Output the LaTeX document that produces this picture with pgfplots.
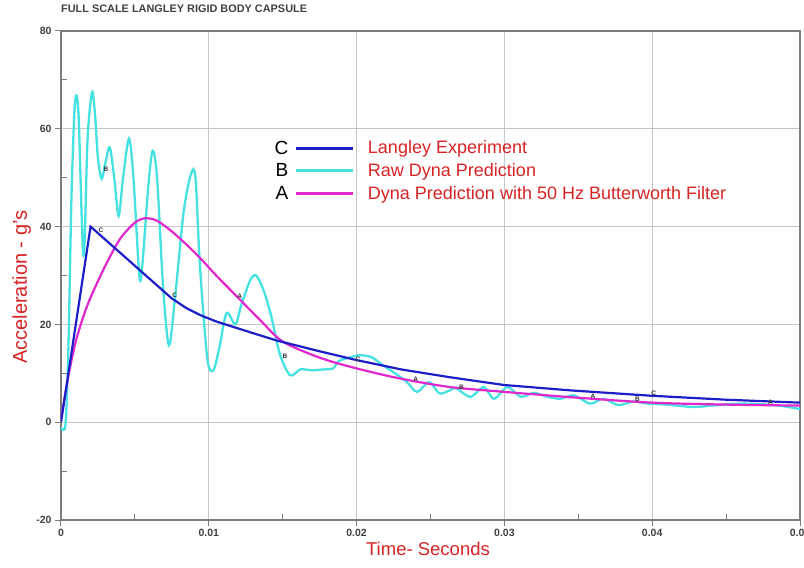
\documentclass[border=0pt]{standalone}
\usepackage{fontspec}
\setmainfont{Liberation Sans}
\usepackage{pgfplots}
\pgfplotsset{compat=1.18}
\usetikzlibrary{calc}

\definecolor{expblue}{RGB}{30,30,200}
\definecolor{rawcyan}{RGB}{70,225,225}
\definecolor{filtmag}{RGB}{225,40,205}
\definecolor{labred}{RGB}{215,35,35}
\definecolor{axgray}{RGB}{125,125,125}

\pgfplotsset{
  legC/.style={legend image code/.code={\node[anchor=east,text=black,font=\fontsize{19}{19}\selectfont] at (-6pt,0pt) {C}; \draw[expblue,line width=3pt] (0pt,0pt) -- (57pt,0pt);}},
  legB/.style={legend image code/.code={\node[anchor=east,text=black,font=\fontsize{19}{19}\selectfont] at (-6pt,0pt) {B}; \draw[rawcyan,line width=3pt] (0pt,0pt) -- (57pt,0pt);}},
  legA/.style={legend image code/.code={\node[anchor=east,text=black,font=\fontsize{19}{19}\selectfont] at (-6pt,0pt) {A}; \draw[filtmag,line width=3pt] (0pt,0pt) -- (57pt,0pt);}},
}
\tikzset{curvelab/.style={font=\fontsize{6.5}{6.5}\selectfont\bfseries, text=black!80, inner sep=0pt}}

% C: Langley experiment
\pgfplotstableread{
t      g
0      0
0.002  40
0.0075 25.3
0.0085 23.3
0.0095 21.8
0.0105 20.6
0.013  18.2
0.0146 16.7
0.0175 14.5
0.02   12.7
0.023  10.8
0.0263 9.2
0.03   7.6
0.0345 6.5
0.04   5.4
0.045  4.6
0.05   4.0
}\expdata

% B: raw Dyna prediction
\pgfplotstableread{
t       g
0       -1
0.0003  -0.5
0.0005  15
0.0007  45
0.0009  63
0.00105 66.8
0.0012  62
0.0014  42
0.0015  34.5
0.0016  37
0.0018  58
0.0021  67.5
0.0023  63
0.0025  54
0.00275 49.8
0.003   53
0.0033  56.2
0.0036  50
0.0039  42.2
0.0042  50
0.0046  58
0.0049  50
0.0053  30
0.0055  32
0.0059  48
0.0062  55.5
0.0065  50
0.0069  28
0.0073  15.7
0.0077  25
0.0083  43
0.0088  50.8
0.0091  50
0.0094  32
0.0099  13
0.0103  10.6
0.0107  15
0.0112  22.3
0.0118  20
0.0122  24
0.0128  29
0.0132  30
0.0137  27
0.0142  22
0.0148  14
0.0155  9.6
0.0162  10.8
0.017   10.6
0.0178  10.8
0.0184  11
0.0188  12.5
0.0195  13.2
0.0202  13.7
0.021   13.3
0.0218  11.6
0.0227  9.8
0.0234  8.2
0.0241  6.2
0.0249  8.2
0.0256  5.9
0.0263  6.5
0.0267  7
0.0277  5.2
0.0286  7.2
0.0293  4.8
0.0302  7.2
0.0311  5.2
0.032   6
0.0329  5.2
0.0338  4.8
0.0347  5.5
0.0358  3.8
0.0367  4.8
0.0377  3.5
0.0387  4.2
0.0397  3.8
0.041   3.6
0.0428  3.1
0.044   3.4
0.0462  3.8
0.0485  3.4
0.05    2.7
}\rawdata

% A: Dyna prediction, 50 Hz Butterworth
\pgfplotstableread{
t       g
0       0.5
0.0003  6
0.0006  11
0.001   16.5
0.0015  21.5
0.002   25.5
0.003   32
0.004   37.5
0.005   40.8
0.0057  41.7
0.0065  41.2
0.0075  39
0.0085  36.3
0.0095  33.3
0.0105  30
0.012   25.4
0.0135  20.8
0.015   16.5
0.0175  13.2
0.02    11
0.023   8.9
0.0263  7.2
0.03    6.2
0.035   5
0.04    4
0.045   3.6
0.05    3.4
}\filtdata

\begin{document}
\begin{tikzpicture}
\begin{axis}[
  name=ax,
  scale only axis,
  width=739pt, height=489pt,
  xmin=0, xmax=0.05, ymin=-20, ymax=80,
  xtick={0,0.01,0.02,0.03,0.04,0.05},
  minor xtick={0.005,0.015,0.025,0.035,0.045},
  ytick={-20,0,20,40,60,80},
  minor ytick={-10,10,30,50,70},
  tick pos=left,
  grid=major,
  grid style={gray!45, line width=0.8pt},
  axis line style={axgray, line width=1.6pt},
  tick align=outside,
  major tick length=6pt, minor tick length=6pt,
  tick style={axgray, line width=1pt},
  minor x tick style={yshift=6pt},
  minor y tick style={xshift=6pt},
  scaled x ticks=false,
  xticklabel style={/pgf/number format/fixed, /pgf/number format/precision=2},
  /pgf/number format/assume math mode=true,
  ticklabel style={font=\fontsize{10.5}{12}\selectfont\bfseries, text=black!75},
  xlabel={Time- Seconds},
  ylabel={Acceleration - g's},
  xlabel style={at={(axis description cs:0.4966,-0.0593)}, anchor=center,
    font=\fontsize{18.5}{21}\selectfont, text=labred},
  ylabel style={at={(axis description cs:-0.0532,0.476)}, anchor=center,
    font=\fontsize{20}{23}\selectfont, text=labred},
  title={FULL SCALE LANGLEY RIGID BODY CAPSULE},
  title style={at={(axis description cs:0,1)}, anchor=base west, yshift=12pt,
    font=\fontsize{10.9}{12}\selectfont\bfseries, text=black!75, inner sep=0pt},
  legend style={at={(axis cs:0.0143,58)}, anchor=north west, draw=none, fill=none,
    font=\fontsize{18}{20}\selectfont, text=labred, inner sep=0pt,
    column sep=11pt, row sep=4pt, cells={anchor=west}},
]
\addlegendimage{legC}
\addlegendentry{Langley Experiment}
\addlegendimage{legB}
\addlegendentry{Raw Dyna Prediction}
\addlegendimage{legA}
\addlegendentry{Dyna Prediction with 50 Hz Butterworth Filter}

\addplot[rawcyan, line width=2.3pt, smooth, tension=0.5, forget plot] table[x=t,y=g] {\rawdata};
\addplot[filtmag, line width=2.2pt, smooth, forget plot] table[x=t,y=g] {\filtdata};
\addplot[expblue, line width=2.2pt, forget plot] table[x=t,y=g] {\expdata};

\node[curvelab] at (axis cs:0.00304,51.8) {B};
\node[curvelab] at (axis cs:0.0027,39.2) {C};
\node[curvelab] at (axis cs:0.0077,25.9) {C};
\node[curvelab] at (axis cs:0.0121,25.7) {A};
\node[curvelab] at (axis cs:0.01516,13.5) {B};
\node[curvelab] at (axis cs:0.0201,12.9) {C};
\node[curvelab] at (axis cs:0.024,8.8) {A};
\node[curvelab] at (axis cs:0.0271,7.1) {B};
\node[curvelab] at (axis cs:0.036,5.3) {A};
\node[curvelab] at (axis cs:0.039,4.7) {B};
\node[curvelab] at (axis cs:0.0401,5.9) {C};
\node[curvelab] at (axis cs:0.048,4.1) {A};
\end{axis}
\pgfresetboundingbox
\path ($(ax.south west)+(-61pt,-47pt)$) rectangle ($(ax.north east)+(4pt,31pt)$);
\end{tikzpicture}
\end{document}
